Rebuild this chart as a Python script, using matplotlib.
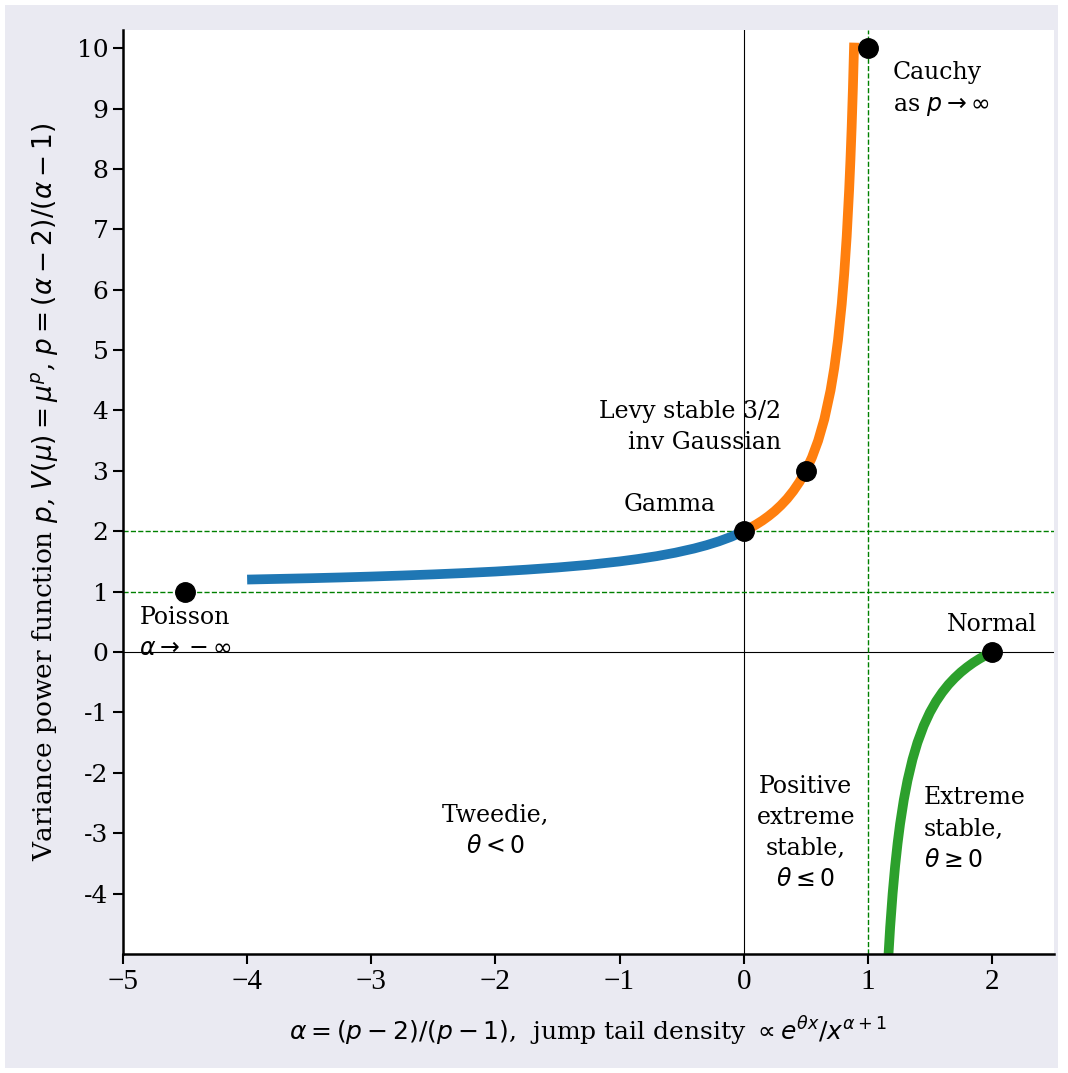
import matplotlib
matplotlib.use("Agg")
import matplotlib.pyplot as plt
from matplotlib.patches import Rectangle

plt.rcParams['font.family'] = ['DejaVu Serif', 'Liberation Serif']
plt.rcParams['mathtext.fontset'] = 'dejavusans'

# Tweedie branch (blue): alpha < 0, 1 < p < 2
blue_alpha = [-4.0, -3.75, -3.5, -3.25, -3.0, -2.75, -2.5, -2.25, -2.0, -1.75, -1.5,
              -1.25, -1.0, -0.85, -0.7, -0.55, -0.4, -0.3, -0.2, -0.1, 0.0]
blue_p = [1.200, 1.211, 1.222, 1.235, 1.250, 1.267, 1.286, 1.308, 1.333, 1.364, 1.400,
          1.444, 1.500, 1.541, 1.588, 1.645, 1.714, 1.769, 1.833, 1.909, 2.000]

# positive stable branch (orange): 0 < alpha < 1, p > 2
orange_alpha = [0.0, 0.05, 0.1, 0.15, 0.2, 0.25, 0.3, 0.35, 0.4, 0.45, 0.5, 0.55, 0.6,
                0.65, 0.7, 0.73, 0.76, 0.79, 0.81, 0.83, 0.85, 0.86, 0.87, 0.88, 0.89]
orange_p = [2.000, 2.053, 2.111, 2.176, 2.250, 2.333, 2.429, 2.538, 2.667, 2.818, 3.000,
            3.222, 3.500, 3.857, 4.333, 4.704, 5.167, 5.762, 6.263, 6.882, 7.667,
            8.143, 8.692, 9.333, 10.09]

# extreme stable branch (green): 1 < alpha <= 2, p <= 0
green_alpha = [2.0, 1.95, 1.9, 1.85, 1.8, 1.75, 1.7, 1.65, 1.6, 1.55, 1.5, 1.45, 1.4,
               1.36, 1.32, 1.29, 1.26, 1.24, 1.22, 1.2, 1.18, 1.167]
green_p = [0.000, -0.053, -0.111, -0.176, -0.250, -0.333, -0.429, -0.538, -0.667,
           -0.818, -1.000, -1.222, -1.500, -1.778, -2.125, -2.448, -2.846, -3.167,
           -3.545, -4.000, -4.556, -5.000]

# special members
pt_alpha = [-4.5, 0.0, 0.5, 1.0, 2.0]
pt_p = [1.0, 2.0, 3.0, 10.0, 0.0]

yticks = [-4, -3, -2, -1, 0, 1, 2, 3, 4, 5, 6, 7, 8, 9, 10]
ytick_labels = [str(v) for v in yticks]
xticks = [-5, -4, -3, -2, -1, 0, 1, 2]
xtick_labels = ['\u22125', '\u22124', '\u22123', '\u22122', '\u22121', '0', '1', '2']

fig = plt.figure(figsize=(10.68, 10.73), dpi=100, facecolor='white')
fig.patches.append(Rectangle((5 / 1068, 5 / 1073), 1 - 15 / 1068, 1 - 10 / 1073,
                             transform=fig.transFigure, facecolor='#eaeaf2',
                             edgecolor='none', zorder=-10))
ax = fig.add_axes([123 / 1068, 119 / 1073, 931 / 1068, 924 / 1073])
ax.set_facecolor('white')

ax.axhline(0, color='black', lw=0.8, zorder=1)
ax.axvline(0, color='black', lw=0.8, zorder=1)
ax.axhline(1, color='green', ls='--', lw=1.0, zorder=1)
ax.axhline(2, color='green', ls='--', lw=1.0, zorder=1)
ax.axvline(1, color='green', ls='--', lw=1.0, zorder=1)

ax.plot(blue_alpha, blue_p, color='#1f77b4', lw=7, solid_capstyle='butt', zorder=2)
ax.plot(orange_alpha, orange_p, color='#ff7f0e', lw=7, solid_capstyle='butt', zorder=2)
ax.plot(green_alpha, green_p, color='#2ca02c', lw=7, solid_capstyle='butt', zorder=2)
ax.plot(pt_alpha, pt_p, 'o', color='black', ms=14, zorder=3, clip_on=False)

fs = 17
ls = 1.45
ax.text(1.2, 9.78, 'Cauchy\nas $p\\rightarrow\\infty$', fontsize=fs, ha='left', va='top',
        linespacing=ls)
ax.text(0.3, 3.72, 'Levy stable 3/2\ninv Gaussian', fontsize=fs, ha='right', va='center',
        linespacing=ls)
ax.text(-0.6, 2.45, 'Gamma', fontsize=fs, ha='center', va='center')
ax.text(-4.5, 0.32, 'Poisson\n$\\alpha\\rightarrow-\\infty$', fontsize=fs, ha='center',
        va='center', linespacing=ls)
ax.text(2.0, 0.45, 'Normal', fontsize=fs, ha='center', va='center')
ax.text(-2.0, -2.97, 'Tweedie,\n$\\theta<0$', fontsize=fs, ha='center', va='center',
        linespacing=ls)
ax.text(0.5, -3.0, 'Positive\nextreme\nstable,\n$\\theta\\leq0$', fontsize=fs,
        ha='center', va='center', linespacing=ls)
ax.text(1.45, -2.93, 'Extreme\nstable,\n$\\theta\\geq0$', fontsize=fs, ha='left',
        va='center', linespacing=ls)

ax.set_xlim(-5, 2.5)
ax.set_ylim(-5, 10.3)
ax.set_xticks(xticks)
ax.set_xticklabels(xtick_labels, family='Liberation Serif')
ax.set_yticks(yticks)
ax.set_yticklabels(ytick_labels)
ax.tick_params(labelsize=18, length=7, width=1.5, direction='out', colors='black')
ax.tick_params(axis='x', labelsize=21)

for s in ['top', 'right']:
    ax.spines[s].set_visible(False)
for s in ['left', 'bottom']:
    ax.spines[s].set_linewidth(1.8)
    ax.spines[s].set_color('black')

ax.set_xlabel('$\\alpha=(p-2)/(p-1)$,  jump tail density $\\propto e^{\\theta x}/x^{\\alpha+1}$',
              fontsize=18, labelpad=14)
ax.set_ylabel('Variance power function $p$, $V(\\mu)=\\mu^p$, $p=(\\alpha-2)/(\\alpha-1)$',
              fontsize=19, labelpad=12)

fig.savefig('out.png', dpi=100, facecolor=fig.get_facecolor())
